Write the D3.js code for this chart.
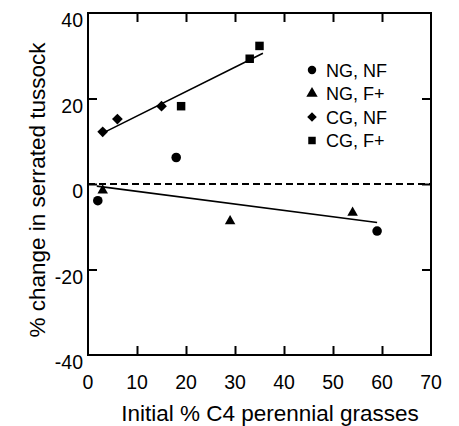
<!DOCTYPE html>
<html>
<head>
<meta charset="utf-8">
<script src="https://cdn.jsdelivr.net/npm/d3@7"></script>
<style>
  body { margin: 0; background: #fff; }
  text { font-family: "Liberation Sans", Arial, Helvetica, sans-serif; fill: #000; }
</style>
</head>
<body>
<div id="chart"></div>
<script>
// data
const ngNfX = [2, 18, 59]
const ngNfY = [-3.9, 6.2, -11.0]
const ngFpX = [3, 29, 54]
const ngFpY = [-1.5, -8.7, -6.7]
const cgNfX = [3, 6, 15]
const cgNfY = [12.2, 15.2, 18.2]
const cgFpX = [19, 33, 35]
const cgFpY = [18.2, 29.3, 32.3]

// fitted lines (endpoints)
const cgFitX = [3, 35.7]
const cgFitY = [11.9, 30.6]
const ngFitX = [1.8, 59]
const ngFitY = [-0.5, -9.0]

const legendLabels = ["NG, NF", "NG, F+", "CG, NF", "CG, F+"]
const xTicks = [0, 10, 20, 30, 40, 50, 60, 70]
const yTicks = [-40, -20, 0, 20, 40]

const width = 459, height = 426
const margin = { top: 13, right: 28, bottom: 71, left: 88 }

const svg = d3.select("#chart").append("svg")
  .attr("width", width)
  .attr("height", height)

const x = d3.scaleLinear().domain([0, 70]).range([margin.left, width - margin.right])
const y = d3.scaleLinear().domain([-40, 40]).range([height - margin.bottom, margin.top])

const symbols = [
  d3.symbol().type(d3.symbolCircle).size(72),
  d3.symbol().type(d3.symbolTriangle).size(48),
  d3.symbol().type(d3.symbolSquare).size(58),
  d3.symbol().type(d3.symbolSquare).size(72)
]
const rot = [0, 0, 45, 0]

// zero line
svg.append("line")
  .attr("x1", x(0)).attr("x2", x(70))
  .attr("y1", y(0)).attr("y2", y(0))
  .attr("stroke", "#000").attr("stroke-width", 2)
  .attr("stroke-dasharray", "7,4")

// ticks, inward on all sides
const inner = yTicks.filter(d => d > -40 && d < 40)
const innerX = xTicks.filter(d => d > 0 && d < 70)
const tickLen = 9
svg.append("g").attr("transform", `translate(${x(0)},0)`)
  .call(d3.axisRight(y).tickValues(inner).tickSize(tickLen).tickFormat(""))
  .call(g => g.select(".domain").remove())
svg.append("g").attr("transform", `translate(${x(70)},0)`)
  .call(d3.axisLeft(y).tickValues(inner).tickSize(tickLen).tickFormat(""))
  .call(g => g.select(".domain").remove())
svg.append("g").attr("transform", `translate(0,${y(-40)})`)
  .call(d3.axisTop(x).tickValues(innerX).tickSize(tickLen).tickFormat(""))
  .call(g => g.select(".domain").remove())
svg.append("g").attr("transform", `translate(0,${y(40)})`)
  .call(d3.axisBottom(x).tickValues(innerX).tickSize(tickLen).tickFormat(""))
  .call(g => g.select(".domain").remove())
svg.selectAll(".tick line").attr("stroke", "#000").attr("stroke-width", 2)

// frame
svg.append("rect")
  .attr("x", x(0)).attr("y", y(40))
  .attr("width", x(70) - x(0)).attr("height", y(-40) - y(40))
  .attr("fill", "none").attr("stroke", "#000").attr("stroke-width", 2)

// tick labels
svg.append("g").selectAll("text").data(yTicks).join("text")
  .attr("x", x(0) - 5)
  .attr("y", d => y(d) + 14)
  .attr("text-anchor", "end")
  .attr("font-size", 19.5)
  .text(d => d)
svg.append("g").selectAll("text").data(xTicks).join("text")
  .attr("x", d => x(d))
  .attr("y", y(-40) + 34)
  .attr("text-anchor", "middle")
  .attr("font-size", 19.5)
  .text(d => d)

// axis titles
svg.append("text")
  .attr("x", 270).attr("y", 421)
  .attr("text-anchor", "middle")
  .attr("font-size", 22.5)
  .text("Initial % C4 perennial grasses")
svg.append("text")
  .attr("transform", "translate(45,190) rotate(-90)")
  .attr("text-anchor", "middle")
  .attr("font-size", 22.5)
  .text("% change in serrated tussock")

// fit lines
const line = d3.line().x(d => x(d[0])).y(d => y(d[1]))
svg.append("path").datum(d3.zip(cgFitX, cgFitY))
  .attr("d", line).attr("fill", "none").attr("stroke", "#000").attr("stroke-width", 1.6)
svg.append("path").datum(d3.zip(ngFitX, ngFitY))
  .attr("d", line).attr("fill", "none").attr("stroke", "#000").attr("stroke-width", 1.6)

// points
const series = [[ngNfX, ngNfY], [ngFpX, ngFpY], [cgNfX, cgNfY], [cgFpX, cgFpY]]
series.forEach(([xs, ys], i) => {
  svg.append("g").selectAll("path").data(d3.zip(xs, ys)).join("path")
    .attr("d", symbols[i])
    .attr("transform", d => `translate(${x(d[0])},${y(d[1])}) rotate(${rot[i]})`)
    .attr("fill", "#000")
})

// legend
const legend = svg.append("g").attr("transform", "translate(312,70)")
legendLabels.forEach((lab, i) => {
  const row = legend.append("g").attr("transform", `translate(0,${i * 23.5})`)
  row.append("path")
    .attr("d", symbols[i].size(i === 2 ? 46 : 56)())
    .attr("transform", `rotate(${rot[i]})`)
    .attr("fill", "#000")
  row.append("text")
    .attr("x", 14).attr("y", 6.5)
    .attr("font-size", 18)
    .text(lab)
})
</script>
</body>
</html>
